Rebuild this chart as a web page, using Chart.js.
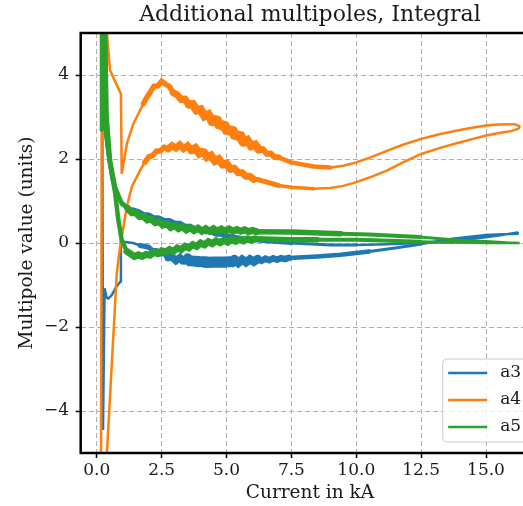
<!DOCTYPE html>
<html>
<head>
<meta charset="utf-8">
<script src="https://cdn.jsdelivr.net/npm/chart.js@4.4.1/dist/chart.umd.min.js"></script>
<style>
html, body { margin: 0; padding: 0; overflow: hidden; background: #fff; }
</style>
</head>
<body>
<canvas id="myChart" width="560" height="506"></canvas>
<script>
// Current (kA) / multipole value pairs (noisy stretches traced with a small wobble).
// "rise" goes from the low-current end out to the tip at ~16.3 kA, "fall" comes back.
const a3Rise = [
    [0.20, 6.5], [0.24, -4.45], [0.30, -1.08], [0.38, -1.30], [0.45, -1.32], [0.58, -1.24],
    [0.74, -1.05], [0.90, -0.93], [0.93, 0.07], [1.03, 0.03], [1.40, 0.00], [1.67, -0.06],
    [2.00, -0.10], [2.15, -0.18], [2.30, -0.18], [2.45, -0.265], [2.60, -0.255], [2.75, -0.35],
    [2.90, -0.33], [3.05, -0.42], [3.20, -0.35], [3.35, -0.45], [3.50, -0.365], [3.65, -0.48],
    [3.80, -0.38], [3.95, -0.50], [4.10, -0.385], [4.25, -0.52], [4.40, -0.40], [4.55, -0.51],
    [4.70, -0.40], [4.85, -0.51], [5.00, -0.40], [5.15, -0.495], [5.30, -0.40], [5.45, -0.475],
    [5.60, -0.395], [5.75, -0.46], [5.90, -0.39], [6.05, -0.445], [6.20, -0.38], [6.35, -0.425],
    [6.50, -0.37], [6.65, -0.41], [6.80, -0.365], [6.95, -0.40], [7.10, -0.36], [7.25, -0.385],
    [7.40, -0.355], [8.50, -0.32], [9.40, -0.28], [10.5, -0.20], [11.5, -0.12], [12.46, -0.03],
    [13.1, 0.04], [13.7, 0.10], [14.4, 0.15], [15.0, 0.19], [15.6, 0.21], [16.25, 0.22]
];
const a3Fall = [
    [16.2, 0.25], [15.5, 0.18], [14.5, 0.10], [13.5, 0.03], [12.46, 0.00], [11.2, -0.03],
    [10.0, -0.05], [9.0, -0.05], [7.5, 0.00], [6.17, 0.06], [5.0, 0.18],
    [4.8, 0.215], [4.6, 0.21], [4.4, 0.265], [4.2, 0.27], [4.0, 0.335], [3.8, 0.335],
    [3.6, 0.40], [3.4, 0.40], [3.2, 0.47], [3.0, 0.475], [2.8, 0.535], [2.6, 0.535],
    [2.4, 0.595], [2.2, 0.605], [2.0, 0.67], [1.8, 0.68], [1.6, 0.75], [1.4, 0.79],
    [1.16, 0.87], [0.77, 1.10], [0.58, 1.50], [0.45, 1.97], [0.32, 2.68], [0.25, 3.5], [0.22, 6.5]
];
const a4Rise = [
    [0.20, 6.5], [0.16, -6.5], [0.26, -6.5], [0.39, -5.0], [0.77, -0.72], [0.90, -0.08],
    [1.03, 0.40], [1.16, 0.87], [1.35, 1.34], [1.67, 1.73], [1.85, 1.92],
    [2.00, 2.05], [2.15, 2.08], [2.30, 2.185], [2.45, 2.195], [2.60, 2.28], [2.75, 2.24],
    [2.90, 2.32], [3.05, 2.26], [3.20, 2.34], [3.35, 2.245], [3.50, 2.315], [3.65, 2.205],
    [3.80, 2.26], [3.95, 2.13], [4.10, 2.19], [4.25, 2.045], [4.40, 2.085], [4.55, 1.955],
    [4.70, 2.00], [4.85, 1.87], [5.00, 1.885], [5.15, 1.765], [5.30, 1.78], [5.45, 1.675],
    [5.60, 1.675], [5.75, 1.59], [5.90, 1.59], [6.05, 1.515], [6.20, 1.51],
    [7.00, 1.37], [7.50, 1.33], [8.35, 1.29], [9.00, 1.31], [9.50, 1.36], [10.0, 1.45],
    [10.6, 1.58], [11.2, 1.73], [11.8, 1.92], [12.5, 2.12], [13.2, 2.26], [13.9, 2.38],
    [14.5, 2.48], [15.0, 2.56], [15.5, 2.62], [16.0, 2.67], [16.25, 2.72]
];
const a4Fall = [
    [16.3, 2.78], [16.1, 2.83], [15.5, 2.82], [15.0, 2.80], [14.4, 2.74], [13.9, 2.68],
    [13.2, 2.59], [12.5, 2.48], [11.8, 2.34], [11.2, 2.20], [10.6, 2.05], [10.0, 1.92],
    [9.5, 1.84], [9.0, 1.80], [8.35, 1.82], [7.49, 1.92],
    [7.00, 2.04], [6.85, 2.045], [6.70, 2.13], [6.55, 2.125], [6.40, 2.235], [6.25, 2.225],
    [6.10, 2.34], [5.95, 2.31], [5.80, 2.45], [5.65, 2.41], [5.50, 2.59], [5.35, 2.53],
    [5.20, 2.715], [5.05, 2.64], [4.90, 2.83], [4.75, 2.78], [4.60, 2.96], [4.45, 2.90],
    [4.30, 3.06], [4.15, 3.02], [4.00, 3.18], [3.85, 3.16], [3.70, 3.30], [3.55, 3.295],
    [3.40, 3.425], [3.25, 3.42], [3.10, 3.53], [2.95, 3.575], [2.80, 3.725], [2.65, 3.78],
    [2.50, 3.85], [2.35, 3.74], [2.20, 3.73], [2.05, 3.58], [1.90, 3.44],
    [1.80, 3.32], [1.41, 2.84], [1.16, 2.37], [0.96, 1.65], [0.93, 3.55], [0.51, 4.11],
    [0.39, 5.0], [0.33, 6.5]
];
const a5Rise = [
    [0.19, 2.7], [0.20, 6.5], [0.30, 6.5], [0.35, 4.0], [0.38, 3.0], [0.51, 1.97],
    [0.70, 1.34], [0.96, 0.94],
    [1.20, 0.82], [1.35, 0.72], [1.50, 0.72], [1.65, 0.63], [1.80, 0.64], [1.95, 0.55],
    [2.10, 0.57], [2.25, 0.485], [2.40, 0.51], [2.55, 0.425], [2.70, 0.455], [2.85, 0.37],
    [3.00, 0.415], [3.15, 0.34], [3.30, 0.385], [3.45, 0.31], [3.60, 0.365], [3.75, 0.295],
    [3.90, 0.35], [4.05, 0.28], [4.20, 0.34], [4.35, 0.28], [4.50, 0.34], [4.65, 0.28],
    [4.80, 0.335], [4.95, 0.285], [5.10, 0.335], [5.25, 0.28], [5.40, 0.32], [5.55, 0.28],
    [5.70, 0.315], [5.85, 0.27], [6.00, 0.30], [6.15, 0.27],
    [7.50, 0.26], [9.40, 0.22], [10.5, 0.20], [12.46, 0.14], [13.7, 0.08], [15.0, 0.04],
    [15.8, 0.01], [16.3, 0.00]
];
const a5Fall = [
    [15.0, 0.00], [13.7, 0.01], [12.46, 0.03], [11.0, 0.06], [10.0, 0.08], [8.5, 0.08],
    [7.5, 0.08],
    [6.10, 0.10], [5.95, 0.07], [5.80, 0.095], [5.65, 0.05], [5.50, 0.085], [5.35, 0.04],
    [5.20, 0.08], [5.05, 0.02], [4.90, 0.065], [4.75, 0.005], [4.60, 0.05], [4.45, -0.015],
    [4.30, 0.03], [4.15, -0.045], [4.00, 0.00], [3.85, -0.08], [3.70, -0.04], [3.55, -0.12],
    [3.40, -0.08], [3.25, -0.16], [3.10, -0.12], [2.95, -0.20], [2.80, -0.155], [2.65, -0.22],
    [2.50, -0.185], [2.35, -0.255], [2.20, -0.225], [2.05, -0.29], [1.90, -0.27], [1.75, -0.32],
    [1.60, -0.28], [1.45, -0.32],
    [1.16, -0.20], [0.96, 0.07], [0.83, 0.55], [0.71, 1.18], [0.58, 1.66], [0.45, 2.13],
    [0.32, 2.8], [0.27, 6.5]
];

const seriesLabels = ['a3', 'a4', 'a5'];
const xTicks = [0, 2.5, 5, 7.5, 10, 12.5, 15];
const xTickLabels = ['0.0', '2.5', '5.0', '7.5', '10.0', '12.5', '15.0'];
const yTicks = [-4, -2, 0, 2, 4];
const yTickLabels = ['\u22124', '\u22122', '0', '2', '4'];

const colors = ['#1f77b4', '#ff7f0e', '#2ca02c'];

// line thickness (px) from a given current on, per branch, so the noisy stretches read as a band
const noise = {
    a3: {
        rise: [[0, 2.5], [1.8, 5], [2.8, 7.5], [3.5, 10], [5.3, 8.5], [6.2, 6.5], [7.45, 4.5], [10, 3], [12, 2.5]],
        fall: [[0, 2.5], [1.3, 5], [5.2, 4], [8, 3], [10, 2.5]]
    },
    a4: {
        rise: [[0, 2.5], [1.9, 5.5], [2.7, 7], [3.6, 8], [5.2, 7], [6.1, 5], [7.2, 3.5], [8.5, 2.5]],
        fall: [[0, 2.5], [1.85, 5.5], [2.9, 7], [3.6, 8.5], [4.5, 10], [5.6, 8.5], [6.3, 6], [7.2, 4.5], [9.2, 2.5]]
    },
    a5: {
        rise: [[0, 4.5], [1.1, 7], [6.2, 5.5], [9, 4], [12, 3], [14, 2.5]],
        fall: [[0, 4.5], [1.1, 7], [6.2, 5.5], [9, 4], [12, 3], [14, 2.5]]
    }
};

function widthAt(steps, x) {
    let w = steps[0][1];
    for (const [from, width] of steps) {
        if (x >= from) w = width;
    }
    return w;
}

const branches = [[a3Rise, a3Fall], [a4Rise, a4Fall], [a5Rise, a5Fall]];

const datasets = branches.map(([rise, fall], i) => {
    const label = seriesLabels[i];
    return {
        label: label,
        data: rise.concat(fall).map(([x, y]) => ({x: x, y: y})),
        borderColor: colors[i],
        backgroundColor: colors[i],
        borderWidth: 2.5,
        borderCapStyle: 'round',
        borderJoinStyle: 'miter',
        pointRadius: 0,
        showLine: true,
        order: 3 - i,
        segment: {
            borderWidth: ctx => {
                const x = (ctx.p0.parsed.x + ctx.p1.parsed.x) / 2;
                const steps = ctx.p0DataIndex < rise.length - 1 ? noise[label].rise : noise[label].fall;
                return widthAt(steps, x);
            }
        }
    };
});

// keep the zigzag corners short: clip long miter spikes
const miterPlugin = {
    id: 'miter',
    beforeDatasetsDraw(chart) { chart.ctx.miterLimit = 1.4; },
    afterDatasetsDraw(chart) { chart.ctx.miterLimit = 10; }
};

// axes frame (matplotlib style spines)
const framePlugin = {
    id: 'frame',
    afterDatasetsDraw(chart) {
        const {ctx, chartArea} = chart;
        ctx.save();
        ctx.strokeStyle = '#000';
        ctx.lineWidth = 2.5;
        ctx.strokeRect(chartArea.left, chartArea.top, chartArea.right - chartArea.left, chartArea.bottom - chartArea.top);
        ctx.restore();
    }
};

// legend box in the lower right corner of the axes
const legendPlugin = {
    id: 'boxLegend',
    afterDraw(chart) {
        const {ctx, chartArea} = chart;
        const w = 88, h = 83;
        const right = chartArea.right - 8.5;
        const bottom = chartArea.bottom - 11;
        const left = right - w, top = bottom - h;
        ctx.save();
        ctx.beginPath();
        ctx.roundRect(left, top, w, h, 4);
        ctx.fillStyle = 'rgba(255,255,255,0.8)';
        ctx.fill();
        ctx.strokeStyle = '#cccccc';
        ctx.lineWidth = 1;
        ctx.stroke();
        ctx.font = "17px 'DejaVu Serif', serif";
        ctx.textBaseline = 'middle';
        ctx.fillStyle = '#1a1a1a';
        chart.data.datasets.forEach((ds, i) => {
            const y = top + 14 + i * 27;
            ctx.beginPath();
            ctx.moveTo(left + 5.5, y);
            ctx.lineTo(left + 44.5, y);
            ctx.strokeStyle = ds.borderColor;
            ctx.lineWidth = 2.5;
            ctx.stroke();
            ctx.fillText(ds.label, left + 57.5, y);
        });
        ctx.restore();
    }
};

Chart.defaults.font.family = "'DejaVu Serif', serif";
Chart.defaults.font.size = 17;
Chart.defaults.color = '#1a1a1a';

const ctx = document.getElementById('myChart');
new Chart(ctx, {
    type: 'scatter',
    data: {datasets: datasets},
    plugins: [miterPlugin, framePlugin, legendPlugin],
    options: {
        responsive: false,
        animation: false,
        layout: {padding: {left: 0, right: 20.8, top: 0, bottom: 0}},
        plugins: {
            legend: {display: false},
            tooltip: {enabled: false},
            title: {
                display: true,
                text: 'Additional multipoles, Integral',
                fullSize: false,
                font: {size: 22, weight: 'normal'},
                color: '#1a1a1a',
                padding: {top: 2.1, bottom: 4.5}
            }
        },
        scales: {
            x: {
                type: 'linear',
                min: -0.62,
                max: 17.05,
                afterFit: s => { s.height = 53; },
                afterBuildTicks: s => { s.ticks = xTicks.map(v => ({value: v})); },
                ticks: {
                    padding: 2,
                    callback: (v, i) => xTickLabels[i]
                },
                grid: {color: '#b0b0b0', lineWidth: 1, tickColor: '#000', tickLength: 5, tickWidth: 1.5},
                border: {display: false, dash: [5, 3]},
                title: {display: true, text: 'Current in kA', font: {size: 18.5}, padding: {top: 0, bottom: 1.9}}
            },
            y: {
                type: 'linear',
                min: -5,
                max: 5,
                afterFit: s => { s.width = 80.7; },
                afterBuildTicks: s => { s.ticks = yTicks.map(v => ({value: v})); },
                ticks: {
                    padding: 6.7,
                    callback: (v, i) => yTickLabels[i]
                },
                grid: {color: '#b0b0b0', lineWidth: 1, tickColor: '#000', tickLength: 5, tickWidth: 1.5},
                border: {display: false, dash: [5, 3]},
                title: {display: true, text: 'Multipole value (units)', font: {size: 18.5}, padding: {top: 15.9, bottom: 0}}
            }
        }
    }
});
</script>
</body>
</html>
